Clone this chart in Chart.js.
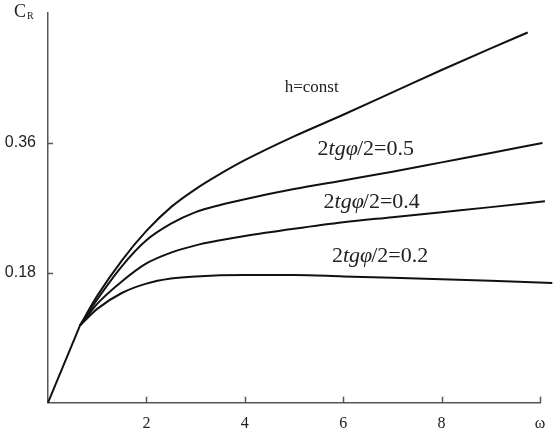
<!DOCTYPE html>
<html>
<head>
<meta charset="utf-8">
<script src="https://cdn.jsdelivr.net/npm/chart.js@4.4.1/dist/chart.umd.min.js"></script>
<style>
  body { margin: 0; background: #fff; }
  #wrap { width: 555px; height: 432px; position: relative; }
</style>
</head>
<body>
<div id="wrap"><canvas id="myChart"></canvas></div>
<script>
// common straight part from the origin to the knee
const omegaStart = [0, 0.65];
const crStart = [0, 0.107];

// h = const
const omegaH = [0.65, 1.0, 1.5, 2.0, 2.5, 3.0, 3.5, 4.0, 5.0, 6.0, 7.0, 8.0, 9.0, 9.75];
const crH = [0.107, 0.148, 0.197, 0.238, 0.271, 0.296, 0.317, 0.336, 0.369, 0.399, 0.430, 0.461, 0.491, 0.513];

// 2tg(phi/2) = 0.5
const omega05 = [0.65, 1.0, 1.5, 2.0, 2.5, 3.0, 3.5, 4.0, 5.0, 6.0, 7.0, 8.0, 9.0, 10.05];
const cr05 = [0.107, 0.143, 0.189, 0.225, 0.248, 0.264, 0.274, 0.282, 0.296, 0.308, 0.320, 0.333, 0.346, 0.360];

// 2tg(phi/2) = 0.4
const omega04 = [0.65, 1.0, 1.5, 2.0, 2.5, 3.0, 3.5, 4.0, 5.0, 6.0, 7.0, 8.0, 9.0, 10.1];
const cr04 = [0.107, 0.137, 0.168, 0.193, 0.208, 0.218, 0.225, 0.231, 0.241, 0.250, 0.257, 0.264, 0.271, 0.279];

// 2tg(phi/2) = 0.2
const omega02 = [0.65, 1.0, 1.5, 2.0, 2.5, 3.0, 4.0, 5.0, 6.0, 7.0, 8.0, 9.0, 10.25];
const cr02 = [0.107, 0.130, 0.152, 0.165, 0.172, 0.175, 0.177, 0.177, 0.175, 0.173, 0.171, 0.169, 0.166];

const xTickValues = [2, 4, 6, 8, 10];
const xTickLabels = ['2', '4', '6', '8', 'ω'];
const yTickValues = [0.18, 0.36];
const yTickLabels = ['0.18', '0.36'];

// curve captions: text pieces and where they sit (data units)
const captions = [
    { x: 4.81, y: 0.430, size: 17, parts: [['h=const', false]] },
    { x: 5.48, y: 0.343, size: 22, parts: [['2', false], ['tgφ', true], ['/2=0.5', false]] },
    { x: 5.60, y: 0.270, size: 22, parts: [['2', false], ['tgφ', true], ['/2=0.4', false]] },
    { x: 5.77, y: 0.195, size: 22, parts: [['2', false], ['tgφ', true], ['/2=0.2', false]] }
];

function toPoints(xs, ys) {
    return xs.map((v, i) => ({ x: v, y: ys[i] }));
}

function curve(label, xs, ys) {
    return {
        label: label,
        data: toPoints(xs, ys),
        borderColor: '#111',
        borderWidth: 2,
        pointRadius: 0,
        cubicInterpolationMode: 'monotone',
        clip: false,
        fill: false
    };
}

const extras = {
    id: 'extras',
    afterDraw(chart) {
        const ctx = chart.ctx;
        const x = chart.scales.x;
        const y = chart.scales.y;
        ctx.save();
        // inward ticks
        ctx.strokeStyle = '#555';
        ctx.lineWidth = 1.5;
        xTickValues.forEach(v => {
            const px = Math.round(x.getPixelForValue(v)) + 0.5;
            ctx.beginPath();
            ctx.moveTo(px, y.bottom);
            ctx.lineTo(px, y.bottom - 6);
            ctx.stroke();
        });
        yTickValues.forEach(v => {
            const py = Math.round(y.getPixelForValue(v)) + 0.5;
            ctx.beginPath();
            ctx.moveTo(x.left, py);
            ctx.lineTo(x.left + 5, py);
            ctx.stroke();
        });
        // axis name C_R
        ctx.fillStyle = '#222';
        ctx.textBaseline = 'alphabetic';
        ctx.font = '18px "Liberation Serif"';
        ctx.fillText('C', 14, 17);
        ctx.font = '10px "Liberation Serif"';
        ctx.fillText('R', 27, 19);
        // curve captions
        captions.forEach(c => {
            let px = x.getPixelForValue(c.x);
            const py = y.getPixelForValue(c.y);
            c.parts.forEach(p => {
                ctx.font = (p[1] ? 'italic ' : '') + c.size + 'px "Liberation Serif"';
                ctx.fillText(p[0], px, py);
                px += ctx.measureText(p[0]).width - (p[1] ? 1 : 0);
            });
        });
        ctx.restore();
    }
};

const ctx = document.getElementById('myChart').getContext('2d');
const myChart = new Chart(ctx, {
    type: 'scatter',
    data: {
        datasets: [
            curve('start', omegaStart, crStart),
            curve('h=const', omegaH, crH),
            curve('0.5', omega05, cr05),
            curve('0.4', omega04, cr04),
            curve('0.2', omega02, cr02)
        ]
    },
    options: {
        responsive: true,
        maintainAspectRatio: false,
        animation: false,
        showLine: true,
        layout: { padding: { top: 13, right: 15, left: 0, bottom: 0 } },
        plugins: {
            legend: { display: false },
            tooltip: { enabled: false }
        },
        scales: {
            x: {
                type: 'linear',
                min: 0,
                max: 10,
                afterBuildTicks: s => { s.ticks = xTickValues.map(v => ({ value: v })); },
                afterFit: s => { s.height = 29.3; s.paddingLeft = 0; s.paddingRight = 0; },
                grid: { display: false, drawTicks: false },
                border: { display: true, color: '#555', width: 1.5 },
                ticks: {
                    padding: 11,
                    color: '#222',
                    maxRotation: 0,
                    font: { family: 'Liberation Serif', size: 16 },
                    callback: (v, i) => xTickLabels[i]
                }
            },
            y: {
                type: 'linear',
                min: 0,
                max: 0.54,
                afterBuildTicks: s => { s.ticks = yTickValues.map(v => ({ value: v })); },
                afterFit: s => { s.width = 48; s.paddingTop = 0; s.paddingBottom = 0; },
                grid: { display: false, drawTicks: false },
                border: { display: true, color: '#555', width: 1.5 },
                ticks: {
                    padding: 12,
                    color: '#222',
                    font: { family: 'Liberation Sans', size: 16 },
                    callback: (v, i) => yTickLabels[i]
                }
            }
        }
    },
    plugins: [extras]
});
</script>
</body>
</html>
